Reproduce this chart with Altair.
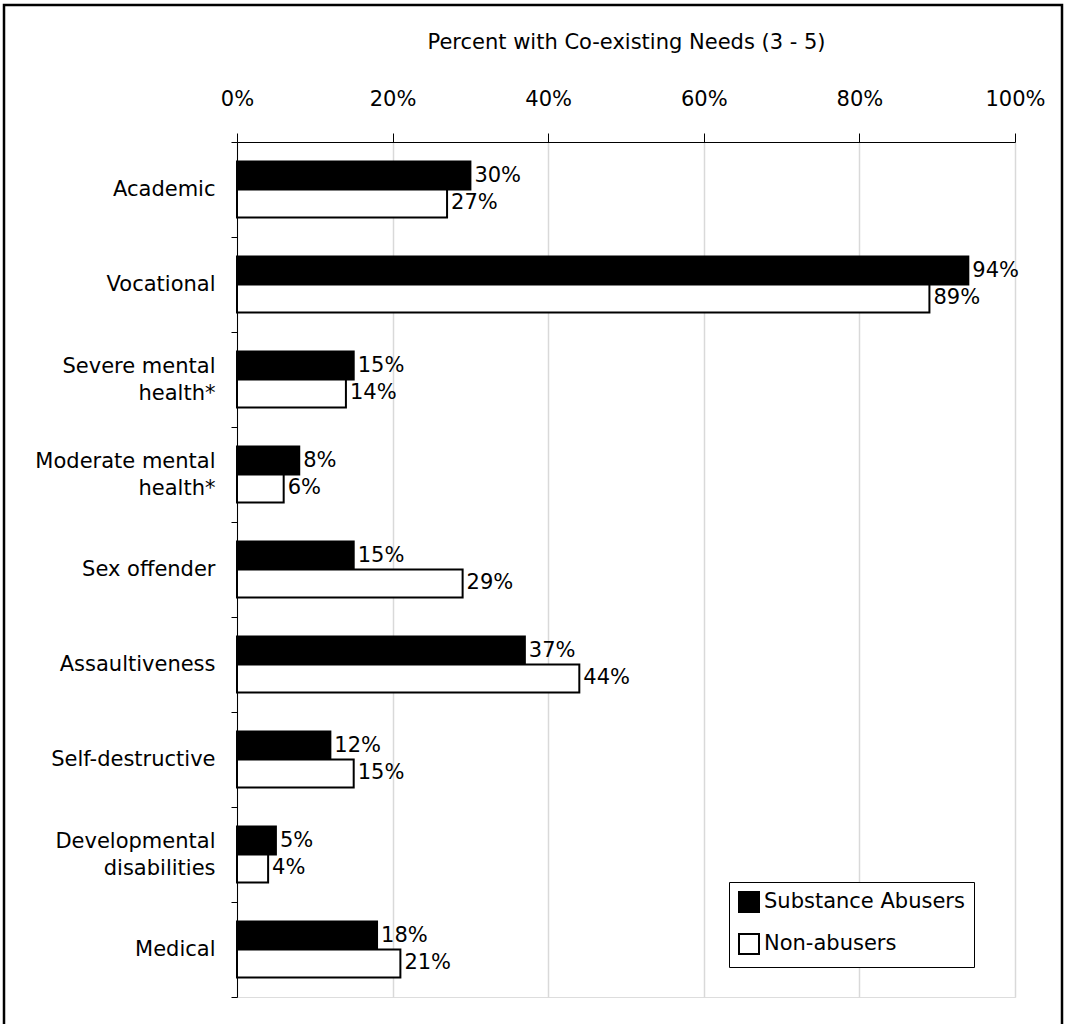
import altair as alt
import pandas as pd

categories = ["Academic", "Vocational", "Severe mental|health*", "Moderate mental|health*",
              "Sex offender", "Assaultiveness", "Self-destructive",
              "Developmental|disabilities", "Medical"]
groups = ["Substance Abusers", "Non-abusers"]
abusers = [30, 94, 15, 8, 15, 37, 12, 5, 18]
non_abusers = [27, 89, 14, 6, 29, 44, 15, 4, 21]
x_ticks = [0, 20, 40, 60, 80, 100]

rows = []
for c, a, n in zip(categories, abusers, non_abusers):
    rows.append({"cat": c, "group": groups[0], "value": a, "label": f"{a}%"})
    rows.append({"cat": c, "group": groups[1], "value": n, "label": f"{n}%"})
df = pd.DataFrame(rows)

FONT = "DejaVu Sans"
FS = 21

y_enc = alt.Y("cat:N", sort=categories,
              scale=alt.Scale(paddingInner=0, paddingOuter=0),
              axis=alt.Axis(title=None, labelExpr="split(datum.label, '|')",
                            labelOffset={"condition": {"test": "indexof(datum.label, '|') >= 0",
                                                       "value": -13},
                                         "value": 0},
                            tickBand="extent", tickSize=6, labelPadding=16,
                            labelLineHeight=27, labelFontSize=FS, labelFont=FONT,
                            labelColor="black", domainColor="black", tickColor="black",
                            domainWidth=1, labelLimit=300))
yoff = alt.YOffset("group:N", sort=groups,
                   scale=alt.Scale(paddingInner=0, paddingOuter=0.7))
x_enc = alt.X("value:Q", scale=alt.Scale(domain=[0, 100], nice=False),
              axis=alt.Axis(orient="top", values=x_ticks, labelExpr="datum.value + '%'",
                            title="Percent with Co-existing Needs (3 - 5)",
                            titleFont=FONT, titleFontSize=FS, titleFontWeight="normal",
                            titleColor="black", titlePadding=36,
                            labelFont=FONT, labelFontSize=FS, labelColor="black",
                            labelFlush=False,
                            labelPadding=24, tickSize=9, tickColor="black",
                            domainColor="black", grid=True, gridColor="#d9d9d9",
                            gridWidth=1.5))

bars = alt.Chart(df).mark_bar(stroke="black", strokeWidth=2).encode(
    x=x_enc, y=y_enc, yOffset=yoff,
    color=alt.Color("group:N", sort=groups,
                    scale=alt.Scale(domain=groups, range=["black", "white"]),
                    legend=alt.Legend(title=None, orient="none", legendX=492, legendY=740,
                                      strokeColor="black", fillColor="white", padding=9,
                                      labelFont=FONT, labelFontSize=FS, labelColor="black",
                                      labelLimit=500,
                                      symbolType="square", symbolSize=400,
                                      symbolStrokeColor="black", symbolStrokeWidth=2,
                                      labelOffset=4, rowPadding=14))
)

text = alt.Chart(df).mark_text(align="left", baseline="middle", dx=4, font=FONT,
                               fontSize=FS, color="black").encode(
    x="value:Q", y=alt.Y("cat:N", sort=categories), yOffset=yoff, text="label:N"
)

frame = alt.Chart(pd.DataFrame({"a": [0]})).mark_rect(
    fill=None, stroke="black", strokeWidth=2.5).encode(
    x=alt.value(-233), x2=alt.value(825), y=alt.value(-137), y2=alt.value(900)
)

chart = alt.layer(bars, text, frame).properties(
    width=778, height=855,
    padding={"left": 237, "top": 142, "right": 54, "bottom": 27},
    autosize=alt.AutoSizeParams(type="none"),
).configure_view(stroke="#c0c0c0", strokeWidth=2).configure(background="white")

chart.save("out.html", embed_options={"renderer": "svg", "actions": False})
